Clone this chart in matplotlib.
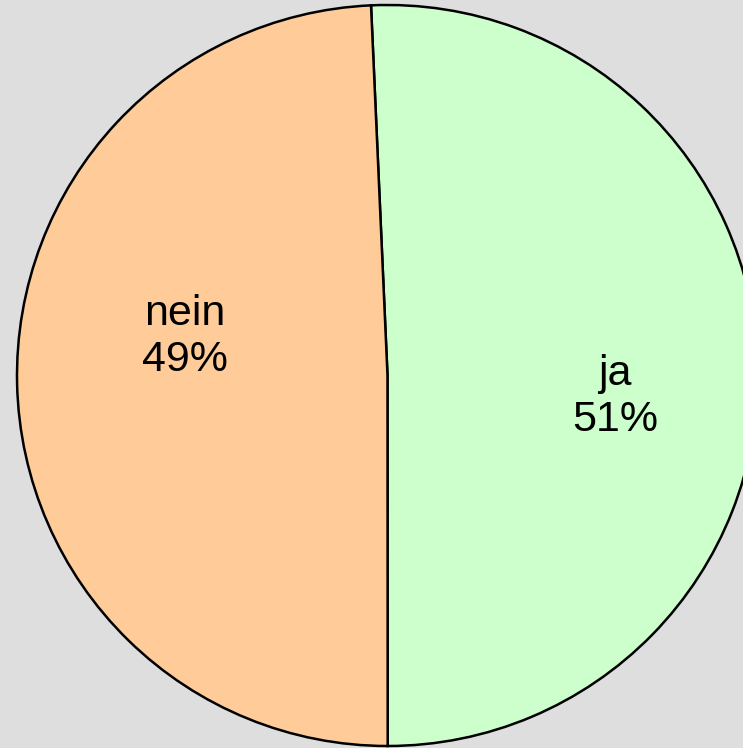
import matplotlib.pyplot as plt

# data
labels = ["ja", "nein"]
values = [50.7, 49.3]
colors = ["#ccffcc", "#ffcc99"]

# layout: label anchor points in pie units (radius = 1)
label_xy = {"ja": (0.614, -0.058), "nein": (-0.547, 0.104)}

W, H = 743, 748
R = 370.5          # pie radius in px
CX, CY = 387.5, 375.5  # pie centre in px (from top-left)

fig = plt.figure(figsize=(W / 100, H / 100), dpi=100)
fig.patch.set_facecolor("#dedede")

ax = fig.add_axes([(CX - R) / W, (H - CY - R) / H, 2 * R / W, 2 * R / H])
ax.set_facecolor("none")
ax.axis("off")

start = 90 + 2.55
wedges, _ = ax.pie(values, colors=colors, startangle=start, counterclock=False,
                   radius=1, wedgeprops={"edgecolor": "black", "linewidth": 1.8})
ax.set_xlim(-1, 1)
ax.set_ylim(-1, 1)
ax.set_aspect("equal")

for lab, val in zip(labels, values):
    x, y = label_xy[lab]
    ax.text(x, y, f"{lab}\n{val:.0f}%", ha="center", va="center",
            fontsize=31, family="Liberation Sans", linespacing=1.2)

plt.savefig("out.png", dpi=100, facecolor=fig.get_facecolor())
